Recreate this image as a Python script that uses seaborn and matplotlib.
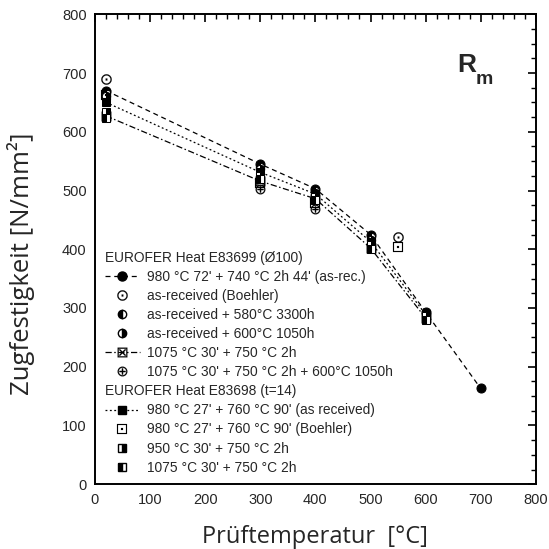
import matplotlib
matplotlib.use("Agg")
import matplotlib.pyplot as plt
from matplotlib.lines import Line2D
from matplotlib.ticker import MultipleLocator
import seaborn as sns
import pandas as pd

# ---------------- data ----------------
T_s1 = [20, 300, 400, 500, 600, 700]
V_s1 = [670, 545, 503, 425, 293, 163]          # 980 °C 72' + 740 °C 2h 44' (as-rec.)
T_s2 = [20, 550]
V_s2 = [690, 420]                              # as-received (Boehler)
T_s3 = [20, 300, 400, 500]
V_s3 = [666, 540, 500, 420]                    # + 580°C 3300h
T_s4 = [20, 300, 400, 500]
V_s4 = [661, 536, 496, 416]                    # + 600°C 1050h
T_s5 = [20, 300, 400, 500, 600]
V_s5 = [627, 516, 486, 402, 283]               # 1075 °C 30' + 750 °C 2h
T_s6 = [300, 400]
V_s6 = [502, 468]                              # 1075 + 600°C 1050h
T_s7 = [20, 300, 400, 500, 600]
V_s7 = [650, 531, 494, 413, 289]               # 980 °C 27' + 760 °C 90' (as received)
T_s8 = [20, 300, 400, 550]
V_s8 = [662, 512, 478, 403]                    # 980 °C 27' + 760 °C 90' (Boehler)
T_s9 = [20, 300, 400, 500, 600]
V_s9 = [633, 524, 489, 408, 286]               # 950 °C 30' + 750 °C 2h
T_s10 = [20, 300, 400, 500, 600]
V_s10 = [624, 520, 484, 400, 280]              # 1075 °C 30' + 750 °C 2h

labels = [
    "980 °C 72' + 740 °C 2h 44' (as-rec.)",
    "as-received (Boehler)",
    "as-received + 580°C 3300h",
    "as-received + 600°C 1050h",
    "1075 °C 30' + 750 °C 2h",
    "1075 °C 30' + 750 °C 2h + 600°C 1050h",
    "980 °C 27' + 760 °C 90' (as received)",
    "980 °C 27' + 760 °C 90' (Boehler)",
    "950 °C 30' + 750 °C 2h",
    "1075 °C 30' + 750 °C 2h",
]
header1 = "EUROFER Heat E83699 (Ø100)"
header2 = "EUROFER Heat E83698 (t=14)"

# ---------------- style ----------------
sns.set_style("white")
plt.rcParams["font.family"] = ["Liberation Sans", "DejaVu Sans"]

fig = plt.figure(figsize=(5.49, 5.49), dpi=100)
ax = fig.add_axes([0.173, 0.118, 0.803, 0.856])

K = "black"
styles = [
    dict(marker="o", linestyle=(0, (4, 3)), ms=6.5, mfc=K, mec=K),
    dict(marker="$\u2299$", linestyle="none", ms=7.5, mfc=K, mec=K, markeredgewidth=0.1),
    dict(marker="o", linestyle="none", ms=6, fillstyle="left", mfc=K, mec=K, markerfacecoloralt="white"),
    dict(marker="o", linestyle="none", ms=6, fillstyle="right", mfc=K, mec=K, markerfacecoloralt="white"),
    dict(marker="$\u22A0$", linestyle=(0, (5, 2, 1.2, 2)), ms=7, mfc=K, mec=K, markeredgewidth=0.1),
    dict(marker="$\u2295$", linestyle="none", ms=7, mfc=K, mec=K, markeredgewidth=0.1),
    dict(marker="s", linestyle=(0, (1.5, 2)), ms=5.5, mfc=K, mec=K),
    dict(marker="$\u22A1$", linestyle="none", ms=7, mfc=K, mec=K, markeredgewidth=0.1),
    dict(marker="s", linestyle="none", ms=5.5, fillstyle="right", mfc=K, mec=K, markerfacecoloralt="white"),
    dict(marker="s", linestyle="none", ms=5.5, fillstyle="left", mfc=K, mec=K, markerfacecoloralt="white"),
]
series = [(T_s1, V_s1), (T_s2, V_s2), (T_s3, V_s3), (T_s4, V_s4), (T_s5, V_s5),
          (T_s6, V_s6), (T_s7, V_s7), (T_s8, V_s8), (T_s9, V_s9), (T_s10, V_s10)]

for (t, v), st in zip(series, styles):
    df = pd.DataFrame({"T": t, "V": v})
    sns.lineplot(data=df, x="T", y="V", ax=ax, color=K, lw=0.9, sort=False,
                 estimator=None, **st)

ax.set_xlim(0, 800)
ax.set_ylim(0, 800)
ax.xaxis.set_major_locator(MultipleLocator(100))
ax.xaxis.set_minor_locator(MultipleLocator(20))
ax.yaxis.set_major_locator(MultipleLocator(100))
ax.yaxis.set_minor_locator(MultipleLocator(25))
ax.tick_params(which="both", direction="in", top=True, right=True, color=K)
ax.tick_params(which="major", length=6, width=1.2, labelsize=10.5, pad=6)
ax.tick_params(which="minor", length=3.5, width=1.0)
for sp in ax.spines.values():
    sp.set_color(K)
    sp.set_linewidth(1.4)

ax.set_xlabel("Prüftemperatur  [°C]", fontsize=17, family=["Open Sans", "DejaVu Sans"], labelpad=13)
ax.set_ylabel("Zugfestigkeit [N/mm²]", fontsize=18.5, family=["Open Sans", "DejaVu Sans"])
ax.yaxis.set_label_coords(-0.135, 0.47)

ax.text(657, 701, "R", fontsize=19, fontweight="bold", ha="left", va="baseline")
ax.text(691, 682, "m", fontsize=14, fontweight="bold", ha="left", va="baseline")

# ---------------- legend ----------------
def handle(st):
    kw = dict(st)
    return Line2D([], [], color=K, lw=0.9, **kw)

blank = Line2D([], [], linestyle="none", marker=None)
handles = [blank] + [handle(s) for s in styles[:6]] + [blank] + [handle(s) for s in styles[6:]]
labs = [header1] + labels[:6] + [header2] + labels[6:]
leg = ax.legend(handles, labs, loc="lower left", bbox_to_anchor=(0.0, 0.0),
                frameon=False, fontsize=9.9, handlelength=2.6, handletextpad=0.5,
                labelspacing=0.37, borderaxespad=0.5, borderpad=0.2)
# shift headers left (remove handle area)
for hp, lab in zip(leg._legend_handle_box.get_children()[0].get_children(), labs):
    if lab in (header1, header2):
        da, ta = hp.get_children()
        da.set_width(0)
        hp.sep = 0

fig.savefig("out.png", dpi=100)
